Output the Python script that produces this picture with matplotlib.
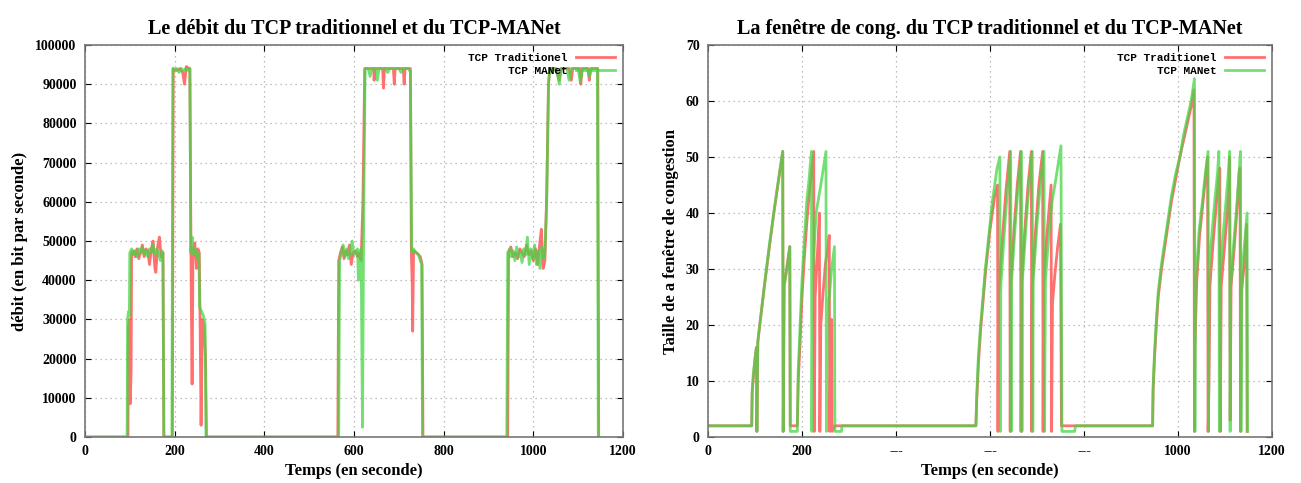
import matplotlib
matplotlib.use('Agg')
import matplotlib.pyplot as plt

# debit (bit/s) - TCP traditionnel
t_debit_trad = [0, 96, 97, 99, 101, 103, 104, 108, 112, 116, 120, 124, 128, 132, 136, 140, 144, 148, 152, 156, 158, 162, 166, 170, 174, 176,
                195, 197, 205, 212, 218, 222, 226, 232, 234, 237, 239, 241, 245, 249, 252, 255, 257, 259, 262, 266, 269, 271,
                564, 566, 570, 574, 578, 582, 586, 590, 594, 598, 604, 608, 612, 616, 620, 624, 630, 644, 645, 647, 664, 666, 668,
                688, 690, 692, 710, 712, 714, 726, 728, 730, 731, 733, 740, 748, 752, 754,
                943, 945, 950, 955, 960, 965, 970, 975, 980, 985, 990, 995, 1000, 1005, 1010, 1015, 1018, 1022, 1026, 1030, 1034, 1037,
                1050, 1058, 1062, 1080, 1085, 1088, 1104, 1106, 1109, 1122, 1125, 1128, 1144, 1146]
v_debit_trad = [0, 0, 28000, 30000, 8500, 17000, 47000, 47500, 46000, 48000, 45500, 47000, 49000, 46000, 48000, 47500, 44000, 48000, 50000, 43000, 42000, 48500, 51000, 46000, 47000, 0,
                0, 94000, 93500, 94000, 93000, 90000, 94500, 94000, 94000, 38000, 13500, 47000, 49500, 43000, 48000, 47000, 27000, 3000, 30000, 28000, 20000, 0,
                0, 45000, 47000, 48500, 45500, 47500, 46500, 49000, 44000, 47000, 47500, 46000, 47000, 45000, 60000, 94000, 94000, 94000, 91000, 94000, 94000, 89000, 94000,
                94000, 90000, 94000, 94000, 90000, 94000, 94000, 47000, 39000, 27000, 47500, 47000, 46000, 44000, 0,
                0, 47000, 48500, 46000, 47000, 45500, 48000, 47000, 46000, 49000, 46500, 47500, 45000, 48000, 44000, 50000, 53000, 43000, 45000, 62000, 90000, 94000,
                94000, 91000, 94000, 94000, 91000, 94000, 94000, 90000, 94000, 94000, 91000, 94000, 94000, 0]

# debit (bit/s) - TCP MANet
t_debit_manet = [0, 94, 95, 97, 99, 100, 104, 108, 112, 116, 120, 124, 128, 132, 136, 140, 144, 148, 152, 156, 160, 164, 168, 172, 174, 176,
                 194, 196, 200, 205, 210, 215, 220, 225, 230, 234, 236, 239, 242, 246, 250, 254, 256, 260, 264, 268, 270,
                 566, 568, 572, 576, 580, 584, 588, 592, 596, 600, 604, 608, 610, 613, 616, 619, 622, 625, 632, 636, 640, 648, 652, 656,
                 670, 675, 680, 700, 705, 710, 722, 726, 729, 733, 738, 744, 748, 751, 753,
                 941, 943, 947, 951, 955, 959, 963, 967, 971, 975, 979, 983, 987, 991, 995, 999, 1003, 1007, 1011, 1015, 1019, 1023, 1026,
                 1030, 1034, 1037, 1045, 1052, 1058, 1062, 1075, 1080, 1085, 1100, 1105, 1110, 1120, 1125, 1130, 1143, 1145]
v_debit_manet = [0, 0, 30000, 32000, 31000, 47000, 48000, 46500, 47500, 46000, 48000, 47000, 48500, 46500, 47500, 46000, 48000, 47000, 49000, 46500, 48000, 47000, 45000, 47500, 47000, 0,
                 0, 94000, 93500, 94000, 93000, 94000, 93500, 94000, 93500, 94000, 47000, 51000, 46500, 48000, 45500, 47000, 33000, 32000, 31000, 29000, 0,
                 0, 45000, 47000, 49000, 46000, 48000, 45500, 47500, 50000, 46500, 47000, 48000, 40000, 47000, 48000, 2500, 60000, 94000, 94000, 92000, 94000, 94000, 91000, 94000,
                 94000, 93000, 94000, 94000, 93000, 94000, 94000, 93000, 47000, 48000, 47000, 46500, 45000, 44000, 0,
                 0, 47000, 48000, 46000, 47500, 45000, 48500, 46000, 47000, 44500, 48000, 46500, 51000, 44000, 48000, 45500, 49000, 44000, 47500, 43000, 48500, 45500, 47000,
                 60000, 90000, 94000, 93500, 94000, 90000, 94000, 94000, 91000, 94000, 94000, 90500, 94000, 94000, 92000, 94000, 94000, 0]

# fenetre de congestion - TCP traditionnel
t_cwnd_trad = [0, 93, 94, 100, 103, 104, 106, 120, 140, 159, 160, 162, 174, 175, 190, 192, 196, 200, 205, 210, 215, 220, 225, 226, 228, 233, 237, 238,
               240, 245, 250, 255, 258, 259, 261, 263, 264, 270, 285, 570, 572, 576, 580, 585, 590, 595, 600, 605, 610, 616, 617, 618, 626, 634, 642,
               643, 644, 651, 658, 665, 666, 667, 674, 681, 688, 689, 690, 697, 704, 712, 713, 714, 720, 726, 730, 731, 733, 738, 744, 750, 752, 780,
               946, 947, 950, 954, 958, 965, 972, 979, 986, 995, 1004, 1012, 1020, 1028, 1034, 1035, 1036, 1040, 1046, 1052, 1058, 1063, 1064,
               1066, 1068, 1074, 1080, 1086, 1089, 1090, 1092, 1098, 1104, 1108, 1110, 1111, 1113, 1119, 1125, 1130, 1132, 1133, 1135, 1140, 1146, 1147]
v_cwnd_trad = [2, 2, 8, 14, 16, 1, 17, 27, 40, 51, 1, 27, 34, 2, 2, 10, 17, 25, 32, 38, 43, 47, 51, 1, 25, 33, 40, 1,
               20, 26, 31, 34, 36, 1, 15, 21, 1, 2, 2, 2, 7, 14, 19, 24, 29, 33, 37, 40, 43, 45, 1, 25, 35, 44, 51,
               1, 27, 37, 45, 51, 1, 27, 37, 45, 51, 1, 27, 37, 45, 51, 1, 27, 35, 41, 45, 1, 24, 29, 34, 38, 2, 2,
               2, 8, 14, 20, 25, 30, 34, 38, 42, 46, 50, 53, 56, 59, 62, 1, 16, 28, 36, 41, 46, 50, 1,
               10, 27, 34, 40, 46, 48, 1, 27, 33, 39, 44, 50, 3, 27, 33, 40, 47, 48, 1, 26, 30, 38, 1]

# fenetre de congestion - TCP MANet
t_cwnd_manet = [0, 93, 94, 96, 100, 103, 104, 106, 110, 120, 130, 140, 150, 159, 160, 162, 168, 174, 175, 190, 192, 196, 200, 205, 210, 215, 220, 221,
                223, 230, 240, 251, 252, 254, 258, 263, 269, 270, 284, 285, 570, 572, 575, 580, 585, 590, 595, 600, 605, 610, 615, 621, 622,
                623, 630, 637, 644, 645, 646, 653, 660, 667, 668, 669, 676, 683, 690, 691, 692, 700, 708, 715, 716, 718, 725, 732, 740, 751, 752, 753,
                780, 782, 946, 947, 950, 954, 958, 965, 972, 979, 986, 995, 1004, 1012, 1020, 1028, 1035, 1036, 1037, 1040, 1045, 1052, 1058, 1064,
                1065, 1066, 1072, 1078, 1084, 1087, 1088, 1089, 1095, 1101, 1106, 1110, 1111, 1112, 1118, 1124, 1129, 1133, 1134, 1136, 1140, 1147, 1148]
v_cwnd_manet = [2, 2, 8, 11, 14, 16, 1, 17, 20, 27, 34, 40, 46, 51, 1, 27, 30, 34, 1, 1, 12, 20, 28, 35, 42, 46, 51, 1,
                30, 40, 45, 51, 1, 22, 25, 30, 34, 1, 1, 2, 2, 8, 14, 20, 25, 30, 34, 38, 42, 45, 48, 50, 1,
                27, 36, 44, 51, 1, 28, 37, 45, 51, 1, 28, 37, 45, 51, 1, 28, 38, 46, 51, 1, 28, 36, 42, 46, 52, 26, 1,
                1, 2, 2, 9, 15, 21, 26, 31, 35, 39, 43, 47, 50, 54, 57, 60, 64, 1, 32, 30, 37, 42, 47, 51,
                1, 30, 36, 42, 47, 51, 1, 28, 35, 41, 46, 51, 1, 27, 34, 40, 46, 51, 1, 28, 33, 40, 1]

RED = '#ff4d4d'
GREEN = '#45d645'
serif = 'Liberation Serif'
mono = 'Liberation Mono'

fig = plt.figure(figsize=(13.01, 4.83), dpi=100)
ax1 = fig.add_axes([0.0653, 0.0952, 0.4135, 0.8116])
ax2 = fig.add_axes([0.5442, 0.0952, 0.4335, 0.8116])


def style_axes(ax, ymax, ystep, title, ylabel, xlabels):
    ax.set_xlim(0, 1200)
    ax.set_ylim(0, ymax)
    ax.set_xticks(range(0, 1201, 200))
    ax.set_xticklabels(xlabels)
    ax.set_yticks(range(0, ymax + 1, ystep))
    ax.grid(True, linestyle=(0, (1, 3)), color='#aaaaaa', linewidth=0.9)
    ax.tick_params(direction='in', top=True, right=True, length=4, labelsize=10, pad=6)
    for lab in ax.get_xticklabels() + ax.get_yticklabels():
        lab.set_fontfamily(serif)
        lab.set_fontweight('bold')
    for sp in ax.spines.values():
        sp.set_color('#777777')
        sp.set_linewidth(1.2)
    ax.set_title(title, fontfamily=serif, fontweight='bold', fontsize=14.5, pad=8)
    ax.set_xlabel('Temps (en seconde)', fontfamily=serif, fontweight='bold', fontsize=12, labelpad=3)
    ax.set_ylabel(ylabel, fontfamily=serif, fontweight='bold', fontsize=12, labelpad=5)
    ax.legend(loc='upper right', frameon=False, markerfirst=False, handlelength=3.5,
              borderaxespad=0.3, labelspacing=0.25,
              prop={'family': mono, 'weight': 'bold', 'size': 8})


ax1.plot(t_debit_trad, v_debit_trad, color=RED, lw=2.0, alpha=0.8, label='TCP Traditionel')
ax1.plot(t_debit_manet, v_debit_manet, color=GREEN, lw=2.0, alpha=0.75, label='TCP MANet')
style_axes(ax1, 100000, 10000, 'Le débit du TCP traditionnel et du TCP-MANet',
           'débit (en bit par seconde)', ['0', '200', '400', '600', '800', '1000', '1200'])

ax2.plot(t_cwnd_trad, v_cwnd_trad, color=RED, lw=2.0, alpha=0.8, label='TCP Traditionel')
ax2.plot(t_cwnd_manet, v_cwnd_manet, color=GREEN, lw=2.0, alpha=0.75, label='TCP MANet')
style_axes(ax2, 70, 10, 'La fenêtre de cong. du TCP traditionnel et du TCP-MANet',
           'Taille de a fenêtre de congestion', ['0', '200', '---', '---', '---', '1000', '1200'])

plt.savefig('out.png', dpi=100)
plt.close('all')
